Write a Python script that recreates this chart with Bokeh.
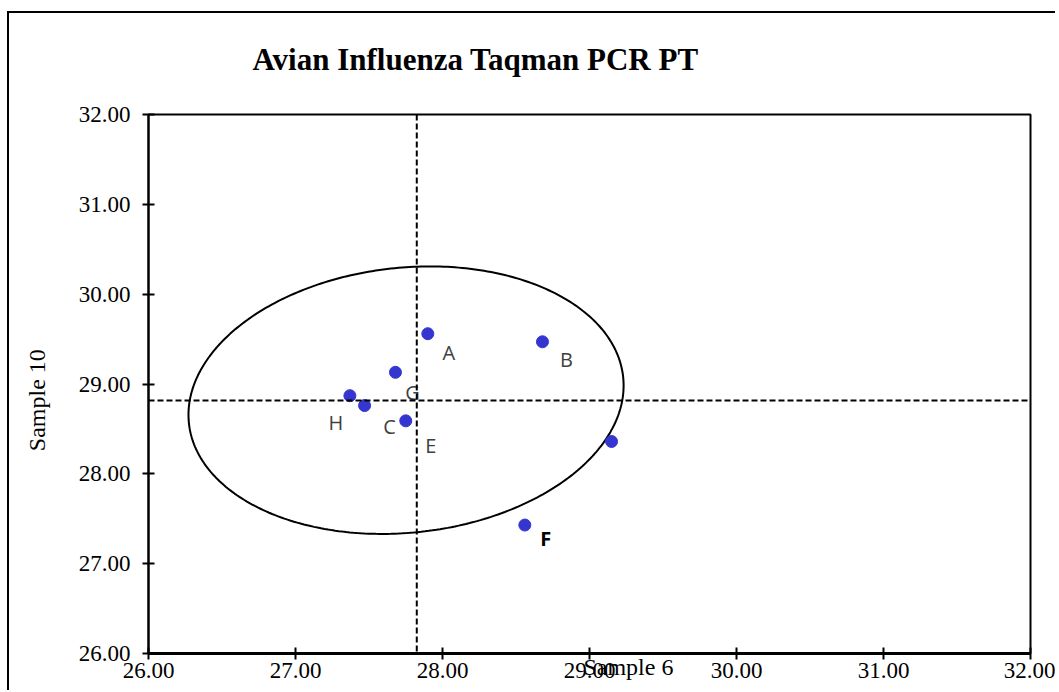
import numpy as np
from bokeh.plotting import figure
from bokeh.models import (ColumnDataSource, Span, FixedTicker, LinearAxis,
                          NumeralTickFormatter, Range1d, InlineStyleSheet)
from bokeh.core.properties import value
from bokeh.embed import file_html
from bokeh.resources import INLINE

# ---------------- data ----------------
title_text = "Avian Influenza Taqman PCR PT"
x_label = "Sample 6"
y_label = "Sample 10"
lab_names = ["A", "B", "G", "H", "C", "E", "D", "F"]
sample6 = [27.90, 28.68, 27.68, 27.37, 27.47, 27.75, 29.15, 28.56]
sample10 = [29.56, 29.47, 29.13, 28.87, 28.76, 28.59, 28.36, 27.43]
x_ticks = [26, 27, 28, 29, 30, 31, 32]
y_ticks = [26, 27, 28, 29, 30, 31, 32]

# ellipse parameters (data units)
ell_cx, ell_cy = 27.752, 28.82
ell_a = 1.480     # horizontal half-width
ell_tilt = 0.163  # vertical shift at the horizontal extremes
ell_b = 1.48      # vertical half-height term

# axis-title anchor positions (data units along each axis)
x_label_at = 29.265
y_label_at = 28.82

# label placement (screen px offsets) and style
label_offsets = {"A": (21, 19), "B": (24, 18), "G": (17, 20), "H": (-14, 27),
                 "C": (25, 21), "E": (25, 25), "F": (21, 13)}
bold_labels = {"F"}

# ---------------- figure ----------------
W, H = 1055, 690
p = figure(width=W, height=H, output_backend="svg", toolbar_location=None,
           title=title_text,
           x_range=Range1d(26, 32), y_range=Range1d(26, 32),
           min_border_left=148, min_border_right=W - 1030,
           min_border_top=114, min_border_bottom=H - 653)
p.background_fill_color = "white"
p.border_fill_color = "white"
p.xgrid.visible = False
p.ygrid.visible = False
p.outline_line_color = "black"
p.outline_line_width = 2

p.title.text_font = "Liberation Serif"
p.title.text_font_size = "31px"
p.title.text_font_style = "bold"
p.title.text_color = "black"
p.title.align = "left"
p.title.offset = 104
p.title.standoff = 76

for ax in (p.xaxis[0], p.yaxis[0]):
    ax.major_label_text_font = "Liberation Serif"
    ax.major_label_text_font_size = "23px"
    ax.major_label_text_color = "black"
    ax.axis_line_color = "black"
    ax.major_tick_line_color = "black"
    ax.major_tick_line_width = 2
    ax.major_tick_in = 6
    ax.major_tick_out = 6
    ax.minor_tick_line_color = None
    ax.formatter = NumeralTickFormatter(format="0.00")

p.xaxis[0].ticker = FixedTicker(ticks=x_ticks)
p.yaxis[0].ticker = FixedTicker(ticks=y_ticks)
p.xaxis[0].axis_line_width = 3
p.yaxis[0].axis_line_width = 2
p.xaxis[0].major_label_standoff = 3
p.yaxis[0].major_label_standoff = 12


def title_axis(cls_kwargs, at, text):
    a = LinearAxis(**cls_kwargs)
    a.ticker = FixedTicker(ticks=[at])
    a.major_label_overrides = {at: text}
    a.axis_line_color = None
    a.major_tick_line_color = None
    a.minor_tick_line_color = None
    a.major_tick_in = 0
    a.major_tick_out = 0
    a.major_label_text_font = "Liberation Serif"
    a.major_label_text_font_size = "24px"
    a.major_label_text_color = "black"
    return a


# x-axis title overlapping the tick labels, as in the original
xt = title_axis({}, x_label_at, x_label)
xt.major_label_standoff = -27
p.add_layout(xt, "below")

# y-axis title, rotated
yt = title_axis({}, y_label_at, y_label)
yt.major_label_orientation = "vertical"
yt.major_label_standoff = 25
p.add_layout(yt, "left")

# median reference lines
mx = float(np.median(sample6))
my = float(np.median(sample10))
p.add_layout(Span(location=mx, dimension="height", line_color="black",
                  line_width=2, line_dash="6 3"))
p.add_layout(Span(location=my, dimension="width", line_color="black",
                  line_width=2, line_dash="6 3"))

# ellipse
t = np.linspace(0, 2 * np.pi, 361)
ex = ell_cx + ell_a * np.cos(t)
ey = ell_cy + ell_tilt * np.cos(t) + ell_b * np.sin(t)
p.line(ex, ey, line_color="black", line_width=2)

# points
p.scatter(sample6, sample10, size=12, fill_color="#3535D0",
          line_color="#3535D0")

# point labels
lx, ly, lt, ox, oy, fs, fc = [], [], [], [], [], [], []
for n, x, y in zip(lab_names, sample6, sample10):
    if n not in label_offsets:
        continue
    lx.append(x); ly.append(y); lt.append(n)
    ox.append(label_offsets[n][0]); oy.append(label_offsets[n][1])
    fs.append("bold" if n in bold_labels else "normal")
    fc.append("black" if n in bold_labels else "#404040")
src = ColumnDataSource(dict(x=lx, y=ly, t=lt, ox=ox, oy=oy, fs=fs, fc=fc))
p.text(x="x", y="y", text="t", x_offset="ox", y_offset="oy", source=src,
       text_font=value("Open Sans"), text_font_size="20px",
       text_font_style="fs", text_color="fc",
       text_align="center", text_baseline="middle")

# outer chart border (left and top edges visible)
p.stylesheets = [InlineStyleSheet(css=(
    ":host{position:relative;}"
    ":host::after{content:'';position:absolute;left:7px;top:11px;right:0;"
    "bottom:0;border-left:2px solid black;border-top:2px solid black;"
    "pointer-events:none;z-index:100;}"))]

open("out.html", "w").write(file_html(p, INLINE))
